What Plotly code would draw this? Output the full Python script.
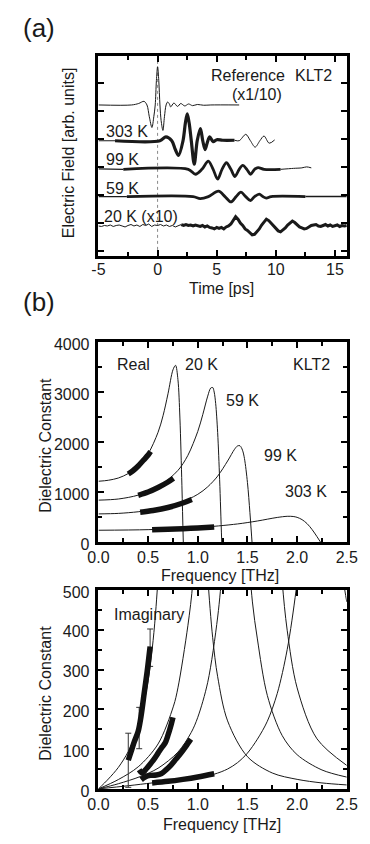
import plotly.graph_objects as go

W, H = 370, 844
FONT = "Liberation Sans, Arial, sans-serif"
INK = "#1a1a1a"

# ---------------- Panel (a): time-domain waveforms ----------------
time_ticks = [-5, 0, 5, 10, 15]
time_tick_text = ["-5", "0", "5", "10", "15"]

# vertical offsets of the stacked traces (arb. units)
offsets = {"ref": 149.0, "303": 112.5, "99": 83.3, "59": 55.5, "20": 25.5}

t_ref = [-5.0, -2.2, -1.6, -1.15, -0.9, -0.7, -0.48, -0.32, -0.2, -0.1, 0.0, 0.1, 0.2, 0.3,
         0.45, 0.58, 0.72, 0.85, 1.0, 1.11, 1.38, 1.69, 1.96, 2.30, 2.62, 2.96, 3.36, 3.89, 4.5, 6.9]
a_ref = [0, 0, 1.5, 3.7, 0, -12, -23, -12, 0, 25, 39, 25, 0, -16,
         -26, -12, 0, 3, 1, -2, 2, -1.5, 1.5, -1, 1, -0.7, 0.5, -0.3, 0, 0]

t_303 = [-5.0, -3.6, 0.2, 0.7, 1.2, 1.5, 1.77, 2.15, 2.35, 2.51, 2.67, 2.85, 3.1, 3.35, 3.62,
         3.82, 4.02, 4.2, 4.4, 4.7, 5.0, 5.5, 6.5, 6.9, 7.46, 7.85, 8.25, 8.65, 9.0, 9.44, 9.9]
a_303 = [0, 0, 0, 4, 0, -9, -15, 0, 18, 27.5, 18, 0, -24, 0, 12.5,
         0, -9, -2, 4, -1, 1, 0.5, 0.5, 0, 6.5, 0, -6.5, 0, 4.8, -2.5, 0.8]

t_99 = [-5.0, -2.9, 2.6, 3.2, 3.75, 4.29, 4.7, 5.08, 5.45, 5.82, 6.2, 6.54, 6.9, 7.2, 7.55,
        7.86, 8.2, 8.5, 9.0, 10.4, 11.5, 12.2, 12.6, 13.0]
a_99 = [0.5, 0, 0, -5, 0, 8.4, 0, -10, 0, 6.7, 0, -7.3, 0, 4, 0,
        -5, 0, 1.7, 0, 0, 1, 1.5, 2.5, 1.5]

t_59 = [-5.0, -2.6, 3.0, 3.6, 4.3, 5.15, 5.7, 6.2, 6.65, 7.05, 7.45, 7.85, 8.2, 8.6, 8.9,
        9.2, 9.6, 12.5, 16.0]
a_59 = [0, 0, 0, -2, 0, 5.5, 0, -5.5, 0, 4.5, 0, -4, 0, 2.5, 0,
        -1.5, 0, 0, 0]

t_20_thin = [-5.0, -4.75, -4.5, -4.25, -4.0, -3.75, -3.5, -3.25, -3.0, -2.75, -2.5, -2.25,
             -2.0, -1.75, -1.5, -1.25, -1.0, -0.75, -0.5, -0.25, 0.0, 0.25, 0.5, 0.75,
             1.0, 1.25, 1.5, 1.75, 2.0]
a_20_thin = [0, -0.5, 0.5, 0, 1, -0.5, 0.5, 1, 0, -1, 0.5, 1.5,
             0, 1, -0.5, 1.5, 0.5, 2, -0.5, 1, 0.5, 1.5, 0, 1,
             -0.5, 0.5, -1, 0.5, 1.5]
t_20_thick = [2.0, 2.2, 2.4, 2.6, 2.8, 3.0, 3.2, 3.4, 3.6, 3.8, 4.0, 4.2, 4.4, 4.6, 4.8,
              5.0, 5.2, 5.4, 5.6, 5.8, 6.0, 6.2, 6.4, 6.6, 6.8, 7.0, 7.2, 7.4, 7.6, 7.8,
              8.0, 8.2, 8.4, 8.6, 8.8, 9.0, 9.2, 9.4, 9.6, 9.8, 10.0, 10.2, 10.4, 10.6,
              10.8, 11.0, 11.2, 11.4, 11.6, 11.8, 12.0, 12.2, 12.4, 12.6, 12.8, 13.0,
              13.2, 13.4, 13.6, 13.8, 14.0, 14.2, 14.4, 14.6, 14.8, 15.0, 15.2, 15.4,
              15.6, 15.8, 16.0]
a_20_thick = [1.5, 0.5, 1.5, 0.5, 1, 0, 1, 0.5, -0.5, 0.5, -1, 0, -1.5, -2, -3,
              -1.5, -2.5, -1.5, -3, -1, 0, 2, 5.5, 9.5, 7, 3, 0.5, -3, -4.5, -7,
              -9, -8.5, -6, -3, 1, 4.5, 7, 5.5, 3, 0, -3, -5, -6, -4,
              -2, 1, 3.5, 5, 3.5, 1, -1, -2, -3, -2.5, -1, 0.5,
              1, 1.5, 0, -0.5, 0.5, 1.5, 0, 1, -0.5, 0.5, 1, -0.5,
              0.5, 0, 0.5]

# ---------------- Panel (b): dielectric constant ----------------
freq_ticks = [0.0, 0.5, 1.0, 1.5, 2.0, 2.5]
freq_tick_text = ["0.0", "0.5", "1.0", "1.5", "2.0", "2.5"]

# Real part, fitted curves
f_re20 = [0, 0.1, 0.2, 0.3, 0.4, 0.5, 0.6, 0.65, 0.7, 0.75, 0.776, 0.8, 0.82, 0.84, 0.853, 0.87]
e_re20 = [1215, 1235, 1280, 1370, 1520, 1765, 2195, 2525, 2965, 3445, 3535, 3250, 2480, 1135, 80, -1210]
f_re59 = [0, 0.2, 0.4, 0.6, 0.8, 0.9, 1.0, 1.05, 1.1, 1.13, 1.15, 1.165, 1.18, 1.2, 1.22, 1.24, 1.26]
e_re59 = [837, 860, 938, 1100, 1432, 1733, 2213, 2548, 2919, 3080, 3092, 3000, 2772, 2188, 1246, 59, -1102]
f_re99 = [0, 0.2, 0.4, 0.6, 0.8, 1.0, 1.1, 1.2, 1.3, 1.37, 1.4, 1.425, 1.45, 1.47, 1.5, 1.525, 1.547, 1.57]
e_re99 = [562, 572, 605, 663, 767, 954, 1104, 1318, 1620, 1855, 1922, 1925, 1837, 1669, 1190, 586, -30, -649]
f_re303 = [0, 0.5, 1.0, 1.4, 1.6, 1.8, 1.9, 1.96, 2.0, 2.05, 2.1, 2.15, 2.2, 2.235, 2.3]
e_re303 = [235, 247, 288, 361, 420, 491, 514, 510, 493, 447, 368, 251, 107, 0, -182]

# Real part, measured
f_mre20 = [0.30, 0.35, 0.40, 0.45, 0.50, 0.525]
e_mre20 = [1360, 1430, 1520, 1630, 1740, 1810]
f_mre59 = [0.40, 0.50, 0.60, 0.70, 0.755]
e_mre59 = [935, 1000, 1090, 1200, 1275]
f_mre99 = [0.42, 0.55, 0.70, 0.85, 0.94]
e_mre99 = [595, 630, 690, 780, 850]
f_mre303 = [0.54, 0.70, 0.85, 1.00, 1.165]
e_mre303 = [245, 255, 265, 280, 300]

# Imaginary part, fitted curves
f_im20 = [0, 0.1, 0.2, 0.3, 0.4, 0.5, 0.55, 0.58, 0.62, 0.7, 0.85, 1.0, 1.05, 1.1, 1.15, 1.2,
          1.3, 1.5, 1.75, 2.0, 2.25, 2.5]
e_im20 = [0, 25, 54, 94, 156, 272, 373, 459, 622, 1310, 6000, 1300, 802, 536, 380, 282,
          171, 81, 40, 24, 15, 10]
f_im59 = [0, 0.2, 0.4, 0.6, 0.755, 0.8, 0.9, 0.95, 1.0, 1.1, 1.24, 1.4, 1.5, 1.55, 1.6, 1.7,
          1.85, 2.0, 2.25, 2.5]
e_im59 = [0, 23.5, 55.5, 113, 208, 254, 410, 520, 803, 1888, 5844, 1513, 640, 470, 377, 235,
          134, 86, 47.6, 29.7]
f_im99 = [0, 0.2, 0.42, 0.6, 0.8, 0.934, 1.0, 1.1, 1.2, 1.25, 1.35, 1.547, 1.75, 1.8, 1.85,
          1.9, 2.0, 2.2, 2.5]
e_im99 = [0, 13, 31, 52, 92.5, 142, 180, 268, 432, 570, 1097, 3601, 976, 700, 520,
          399, 254, 126, 59]
f_im303 = [0, 0.3, 0.54, 0.8, 1.0, 1.165, 1.3, 1.4, 1.5, 1.6, 1.7, 1.8, 1.9, 1.99, 2.08,
           2.235, 2.4, 2.48, 2.5]
e_im303 = [0, 8, 15, 22, 29, 37, 50, 66, 90, 125, 170, 240, 350, 500, 700,
           900, 650, 500, 470]

# Imaginary part, measured
f_mim20 = [0.30, 0.33, 0.36, 0.40, 0.43, 0.46, 0.49, 0.52]
e_mim20 = [72, 95, 118, 145, 185, 240, 295, 358]
f_mim59 = [0.41, 0.44, 0.48, 0.52, 0.56, 0.60, 0.64, 0.67, 0.70, 0.73, 0.75]
e_mim59 = [48, 40, 50, 62, 75, 90, 105, 115, 135, 160, 180]
f_mim99 = [0.43, 0.47, 0.52, 0.58, 0.63, 0.68, 0.73, 0.78, 0.83, 0.88, 0.93]
e_mim99 = [23, 30, 34, 35, 38, 48, 60, 75, 90, 107, 125]
f_mim303 = [0.54, 0.70, 0.85, 1.00, 1.165]
e_mim303 = [15, 19, 24, 30, 38]

# error bars on 20 K imaginary data
f_err20 = [0.30, 0.41, 0.52]
e_err20 = [72, 153, 355]
d_err20 = [68, 52, 47]

# ---------------- figure ----------------
fig = go.Figure()


def seg(t, a, off, lo, hi):
    xs, ys = [], []
    for ti, ai in zip(t, a):
        if lo <= ti <= hi:
            xs.append(ti)
            ys.append(ai + off)
    return xs, ys


def add_line(x, y, width, xa="x", ya="y", shape="spline", color=INK):
    fig.add_trace(go.Scatter(x=x, y=y, mode="lines", xaxis=xa, yaxis=ya,
                             line=dict(color=color, width=width, shape=shape,
                                       smoothing=0.9 if shape == "spline" else None),
                             hoverinfo="skip"))


# panel (a)
x, y = seg(t_ref, a_ref, offsets["ref"], -99, 99)
add_line(x, y, 1)
for (t, a, key, pieces) in [
    (t_303, a_303, "303", [(-5, -3.6, 1.2), (-3.6, 6.5, 3.2), (6.5, 10, 1)]),
    (t_99, a_99, "99", [(-5, -2.9, 1.2), (-2.9, 10.4, 2.8), (10.4, 13, 1)]),
    (t_59, a_59, "59", [(-5, -2.6, 1.2), (-2.6, 12.5, 2.8), (12.5, 16, 1.5)]),
]:
    for lo, hi, wdt in pieces:
        x, y = seg(t, a, offsets[key], lo, hi)
        add_line(x, y, wdt)
x, y = seg(t_20_thin, a_20_thin, offsets["20"], -99, 99)
add_line(x, y, 1, shape="linear")
x, y = seg(t_20_thick, a_20_thick, offsets["20"], -99, 99)
add_line(x, y, 3, shape="linear")

# panel (b) real
for f, e in [(f_re20, e_re20), (f_re59, e_re59), (f_re99, e_re99), (f_re303, e_re303)]:
    add_line(f, e, 1, "x2", "y2")
for f, e in [(f_mre20, e_mre20), (f_mre59, e_mre59), (f_mre99, e_mre99), (f_mre303, e_mre303)]:
    add_line(f, e, 5.5, "x2", "y2", color="#111111")

# panel (b) imaginary
for f, e in [(f_im20, e_im20), (f_im59, e_im59), (f_im99, e_im99), (f_im303, e_im303)]:
    add_line(f, e, 1, "x3", "y3")
fig.add_trace(go.Scatter(x=f_err20, y=e_err20, mode="markers", xaxis="x3", yaxis="y3",
                         marker=dict(size=1, color="rgba(0,0,0,0)"),
                         error_y=dict(type="data", array=d_err20, visible=True,
                                      color="#333333", thickness=1, width=3),
                         hoverinfo="skip"))
for f, e in [(f_mim20, e_mim20), (f_mim59, e_mim59), (f_mim99, e_mim99), (f_mim303, e_mim303)]:
    add_line(f, e, 5.5, "x3", "y3", color="#111111")

# ---------------- layout ----------------
def px_x(v):
    return v / W


def px_y(v):
    return 1 - v / H


XD = [px_x(93), px_x(357)]
tickfont = dict(family=FONT, size=16, color=INK)
base_axis = dict(showline=True, linewidth=2.5, linecolor="black", mirror="ticks",
                 ticks="inside", ticklen=6, tickwidth=1.5, tickcolor="black",
                 showgrid=False, zeroline=False, tickfont=tickfont)
xminor = dict(ticks="inside", ticklen=4, tickcolor="black")

fig.update_layout(
    width=W, height=H, margin=dict(l=0, r=0, t=0, b=0),
    paper_bgcolor="white", plot_bgcolor="white", showlegend=False,
    xaxis=dict(base_axis, domain=XD, anchor="y", range=[-5, 16],
               tickvals=time_ticks, ticktext=time_tick_text, ticklabelstandoff=-3,
               minor=dict(xminor, dtick=2.5, tick0=0)),
    yaxis=dict(base_axis, domain=[px_y(255), px_y(51)], anchor="x", range=[-5, 199],
               tick0=0, dtick=28.5, showticklabels=False),
    xaxis2=dict(base_axis, domain=XD, anchor="y2", range=[0, 2.5],
                tickvals=freq_ticks, ticktext=freq_tick_text, ticklabelstandoff=-1,
                minor=dict(xminor, dtick=0.25, tick0=0)),
    yaxis2=dict(base_axis, domain=[px_y(547), px_y(343)], anchor="x2", range=[0, 4000],
                dtick=1000, tick0=0, ticklabelstandoff=3, ticklabelshift=2,
                minor=dict(xminor, dtick=500, tick0=0)),
    xaxis3=dict(base_axis, domain=XD, anchor="y3", range=[0, 2.5],
                tickvals=freq_ticks, ticktext=freq_tick_text, ticklabelstandoff=-1,
                minor=dict(xminor, dtick=0.25, tick0=0)),
    yaxis3=dict(base_axis, domain=[px_y(799), px_y(596)], anchor="x3", range=[0, 500],
                dtick=100, tick0=0, ticklabelstandoff=3, ticklabelshift=2,
                minor=dict(xminor, dtick=50, tick0=0)),
)

fig.add_shape(type="line", xref="x", yref="y domain", x0=0, x1=0, y0=0, y1=1,
              line=dict(color="#888888", width=1, dash="dot"), layer="below")


def txt(s, x, y, size=16, angle=0):
    fig.add_annotation(text=s, x=px_x(x), y=px_y(y), xref="paper", yref="paper",
                       showarrow=False, textangle=angle, xanchor="center", yanchor="middle",
                       font=dict(family=FONT, size=size, color=INK))


txt("(a)", 30, 22, 26)
txt("(b)", 30, 302, 26)
txt("Reference", 252, 71)
txt("KLT2", 322, 71)
txt("(x1/10)", 262, 90)
txt("303 K", 123, 128)
txt("99 K", 119, 157)
txt("59 K", 119, 186)
txt("20 K (x10)", 138, 215)
txt("Time [ps]", 224, 288)
txt("Electric Field [arb. units]", 62, 150, angle=-90)

txt("Real", 130, 366)
txt("20 K", 203, 366)
txt("KLT2", 320, 366)
txt("59 K", 246, 403)
txt("99 K", 287, 459)
txt("303 K", 314, 495)
txt("Frequency [THz]", 222, 581)
txt("Dielectric Constant", 37, 448, angle=-90)

txt("Imaginary", 147, 621)
txt("Frequency [THz]", 224, 835)
txt("Dielectric Constant", 37, 701, angle=-90)

fig.write_html("out.html")
